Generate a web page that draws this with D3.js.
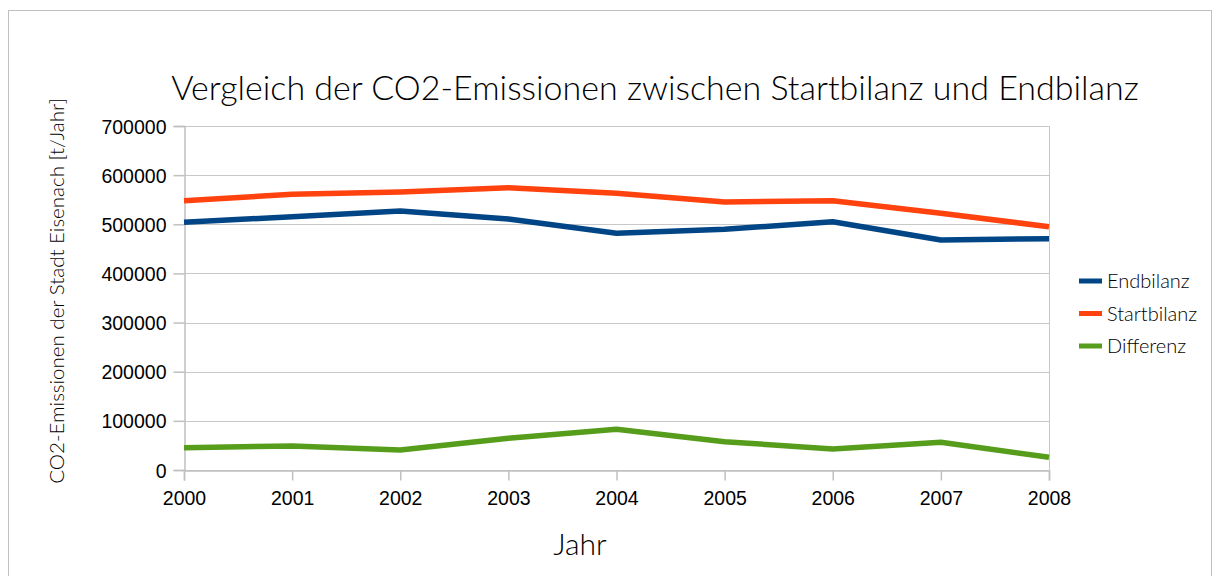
<!DOCTYPE html>
<html>
<head>
<meta charset="utf-8">
<script src="https://cdn.jsdelivr.net/npm/d3@7"></script>
<style>
  body { margin: 0; background: #fff; }
  .tick text { font-family: "Liberation Sans", Arial, sans-serif; font-size: 19.5px; fill: #000; }
  .light { font-family: Lato, "Open Sans", sans-serif; font-weight: 300; fill: #000; }
</style>
</head>
<body>
<svg id="chart" width="1215" height="576"></svg>
<script>
var years = [2000, 2001, 2002, 2003, 2004, 2005, 2006, 2007, 2008];
var endbilanz   = [504000, 515500, 527000, 510800, 481700, 489800, 505300, 468000, 470700];
var startbilanz = [548000, 561000, 565500, 574500, 563000, 545400, 548000, 522400, 495000];
var differenz   = [45400, 48800, 40700, 64500, 82800, 57600, 42700, 56400, 25800];
var seriesNames = ["Endbilanz", "Startbilanz", "Differenz"];
var seriesColors = ["#004586", "#ff420e", "#579d1c"];
var yTicks = [0, 100000, 200000, 300000, 400000, 500000, 600000, 700000];

var svg = d3.select("#chart");

// outer frame
svg.append("rect")
    .attr("x", 8.5).attr("y", 10.5)
    .attr("width", 1203).attr("height", 600)
    .attr("fill", "none").attr("stroke", "#c0c0c0");

var plotLeft = 184, plotRight = 1049, plotTop = 126, plotBottom = 470;

var x = d3.scaleLinear().domain([2000, 2008]).range([plotLeft, plotRight]);
var y = d3.scaleLinear().domain([0, 700000]).range([plotBottom, plotTop]);

// horizontal grid
svg.append("g").selectAll("line").data(yTicks)
    .enter().append("line")
    .attr("x1", plotLeft).attr("x2", plotRight)
    .attr("y1", function (d) { return Math.round(y(d)) + 0.5; })
    .attr("y2", function (d) { return Math.round(y(d)) + 0.5; })
    .attr("stroke", "#c8c8c8");

// plot frame right edge
svg.append("line")
    .attr("x1", plotRight + 0.5).attr("x2", plotRight + 0.5)
    .attr("y1", plotTop).attr("y2", plotBottom)
    .attr("stroke", "#c8c8c8");

var yAxis = svg.append("g")
    .attr("transform", "translate(" + (plotLeft + 0.5) + ",0)")
    .call(d3.axisLeft(y).tickValues(yTicks).tickSize(11).tickPadding(7).tickFormat(d3.format("d")));

var xAxis = svg.append("g")
    .attr("transform", "translate(0," + (plotBottom + 0.5) + ")")
    .call(d3.axisBottom(x).tickValues(years).tickSize(10).tickPadding(11).tickFormat(d3.format("d")));

[yAxis, xAxis].forEach(function (a) {
    a.select(".domain").attr("stroke", "#c0c0c0").attr("stroke-width", 1.5);
    a.selectAll(".tick line").attr("stroke", "#c0c0c0").attr("stroke-width", 1.5);
});
yAxis.selectAll(".tick text").attr("dy", "0.36em");

var line = d3.line()
    .x(function (d, i) { return x(years[i]); })
    .y(function (d) { return y(d); });

[endbilanz, startbilanz, differenz].forEach(function (s, i) {
    svg.append("path")
        .datum(s)
        .attr("d", line)
        .attr("fill", "none")
        .attr("stroke", seriesColors[i])
        .attr("stroke-width", 5.5)
        .attr("stroke-linejoin", "round");
});

// title
svg.append("text")
    .attr("class", "light")
    .attr("x", 655).attr("y", 100)
    .attr("text-anchor", "middle")
    .style("font-size", "34px")
    .text("Vergleich der CO2-Emissionen zwischen Startbilanz und Endbilanz");

// axis titles
svg.append("text")
    .attr("class", "light")
    .attr("transform", "translate(64,291) rotate(-90)")
    .attr("text-anchor", "middle")
    .style("font-size", "20.5px")
    .text("CO2-Emissionen der Stadt Eisenach [t/Jahr]");

svg.append("text")
    .attr("class", "light")
    .attr("x", 580).attr("y", 555)
    .attr("text-anchor", "middle")
    .style("font-size", "30px")
    .text("Jahr");

// legend
var legend = svg.append("g").selectAll("g").data(seriesNames)
    .enter().append("g")
    .attr("transform", function (d, i) { return "translate(1079," + (281 + i * 32.5) + ")"; });

legend.append("line")
    .attr("x1", 0).attr("x2", 23)
    .attr("stroke", function (d, i) { return seriesColors[i]; })
    .attr("stroke-width", 5);

legend.append("text")
    .attr("class", "light")
    .attr("x", 28).attr("dy", "0.36em")
    .style("font-size", "20px")
    .text(function (d) { return d; });
</script>
</body>
</html>
